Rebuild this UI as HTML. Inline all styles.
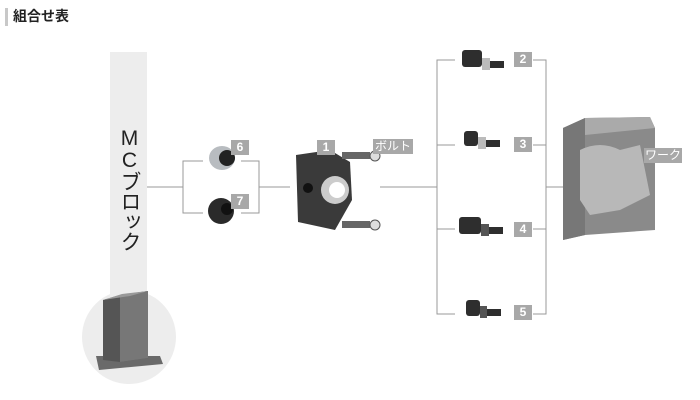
<!DOCTYPE html>
<html><head><meta charset="utf-8"><style>
body{margin:0;background:#fff;width:700px;height:400px;overflow:hidden;font-family:"Liberation Sans","Noto Sans CJK JP",sans-serif}
.t{position:absolute;left:13px;top:6px;font-size:14px;font-weight:bold;color:#222}
.lb{position:absolute;background:#a8a8a8;color:#fff;font-size:12px;font-weight:bold;text-align:center;line-height:15px;height:15px}
</style></head><body>
<svg width="700" height="400" style="position:absolute;left:0;top:0">
<rect x="5" y="8" width="3" height="18" fill="#c8c8c8"/>
<rect x="110" y="52" width="37" height="250" fill="#ededed"/>
<circle cx="129" cy="337" r="47" fill="#ededed"/>
<g stroke="#999" fill="none" stroke-width="1">
<path d="M147 187H183M203 161H183V213H203M241 161H259V213H241M259 187H290"/>
<path d="M380 187H437M455 60H437V314H455M437 145H455M437 229H455M533 60H546V314H533M533 145H546M533 229H546M546 187H563"/>
</g>
<polygon points="96,356 160,356 163,364 99,370" fill="#6a6a6a"/>
<polygon points="103,300 120,295 148,291 148,358 120,362 103,360" fill="#555"/>
<polygon points="120,295 148,291 148,358 120,362" fill="#777"/>
<polygon points="103,300 130,296 148,291 122,294" fill="#999"/>
<ellipse cx="222" cy="158" rx="13" ry="12" fill="#b8bcc0"/><circle cx="227" cy="158" r="8" fill="#222"/>
<ellipse cx="221" cy="211" rx="13" ry="13" fill="#2a2a2a"/><circle cx="227" cy="209" r="6" fill="#111"/>
<path d="M296 155 L330 150 L350 162 L352 200 L335 230 L298 222 Z" fill="#3a3a3a"/>
<circle cx="335" cy="190" r="14" fill="#ccc"/><circle cx="337" cy="190" r="8" fill="#fff"/>
<circle cx="308" cy="188" r="5" fill="#111"/>
<rect x="342" y="152" width="28" height="7" fill="#666"/><circle cx="375" cy="156" r="5" fill="#ddd" stroke="#555"/>
<rect x="342" y="221" width="28" height="7" fill="#666"/><circle cx="375" cy="225" r="5" fill="#ddd" stroke="#555"/>
<g fill="#2e2e2e">
<rect x="462" y="50" width="20" height="17" rx="3"/><rect x="482" y="58" width="8" height="12" fill="#bbb"/><rect x="490" y="61" width="14" height="7"/>
<rect x="464" y="131" width="14" height="15" rx="3"/><rect x="478" y="137" width="8" height="12" fill="#bbb"/><rect x="486" y="140" width="14" height="7"/>
<rect x="459" y="217" width="22" height="17" rx="3"/><rect x="481" y="224" width="8" height="12" fill="#555"/><rect x="489" y="227" width="14" height="7"/>
<rect x="466" y="300" width="14" height="16" rx="3"/><rect x="480" y="306" width="7" height="12" fill="#555"/><rect x="487" y="309" width="14" height="7"/>
</g>
<polygon points="563,128 585,118 650,117 655,128 655,230 585,235 563,240" fill="#8a8a8a"/>
<polygon points="563,128 585,118 585,235 563,240" fill="#777"/>
<polygon points="585,118 650,117 655,128 585,135" fill="#aaa"/>
<path d="M580 150 Q600 140 620 150 L640 145 L650 195 L620 210 L590 215 L580 200 Z" fill="#b8b8b8"/>
</svg>
<div class="t">組合せ表</div>
<div style="position:absolute;left:114px;top:127px;width:30px;font-size:21px;color:#222;writing-mode:vertical-rl;text-orientation:upright;line-height:30px;letter-spacing:-1px">MCブロック</div>
<div class="lb" style="left:231px;top:140px;width:18px">6</div>
<div class="lb" style="left:231px;top:194px;width:18px">7</div>
<div class="lb" style="left:317px;top:140px;width:18px">1</div>
<div class="lb" style="left:373px;top:139px;width:40px;font-weight:normal">ボルト</div>
<div class="lb" style="left:514px;top:52px;width:18px">2</div>
<div class="lb" style="left:514px;top:137px;width:18px">3</div>
<div class="lb" style="left:514px;top:222px;width:18px">4</div>
<div class="lb" style="left:514px;top:305px;width:18px">5</div>
<div class="lb" style="left:644px;top:148px;width:38px;font-weight:normal">ワーク</div>
</body></html>
